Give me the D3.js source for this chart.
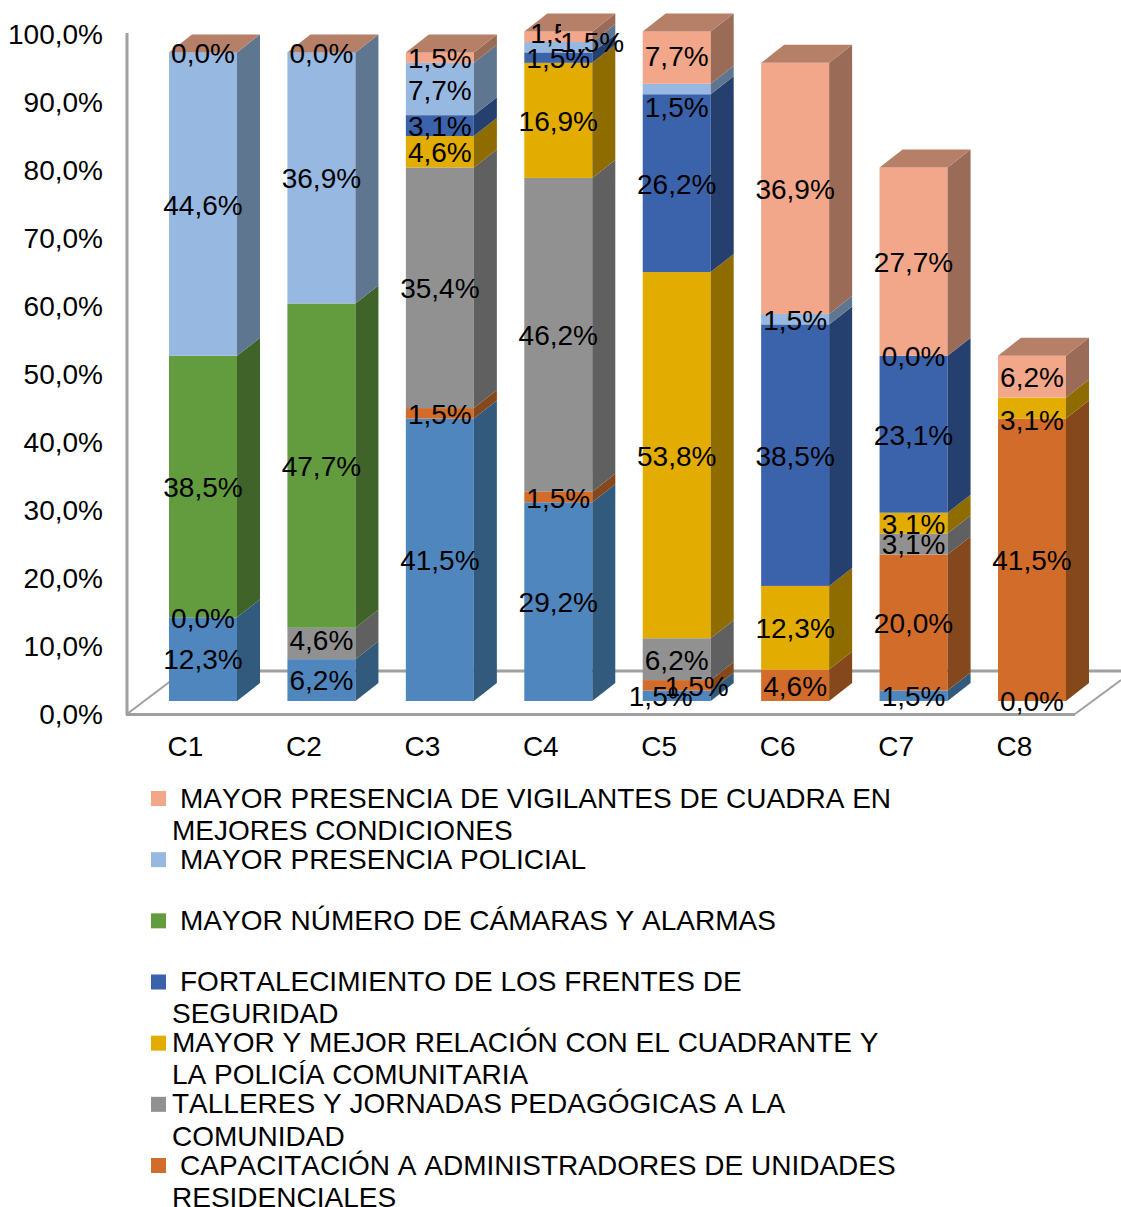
<!DOCTYPE html>
<html><head><meta charset="utf-8">
<script src="https://cdnjs.cloudflare.com/ajax/libs/d3/7.8.5/d3.min.js"></script>
<style>html,body{margin:0;padding:0;background:#fff}svg{display:block}text{font-family:"Liberation Sans",Arial,sans-serif;fill:#000;font-kerning:none}</style>
</head><body><svg id="c" width="1121" height="1207"></svg>
<script>
const categories=["C1","C2","C3","C4","C5","C6","C7","C8"];
const tickValues=[0,10,20,30,40,50,60,70,80,90,100];
// null = no segment and no label in the reference
const serieBase=[12.308,6.154,41.538,29.231,1.538,null,1.538,0];
const serieCapacitacion=[0,null,1.538,1.538,1.538,4.615,20,41.538];
const serieTalleres=[null,4.615,35.385,46.154,6.154,null,3.077,null];
const serieRelacion=[null,null,4.615,16.923,53.846,12.308,3.077,3.077];
const serieFrentes=[null,null,3.077,1.538,26.154,38.462,23.077,null];
const serieCamaras=[38.462,47.692,null,null,null,null,null,null];
const seriePolicial=[44.615,36.923,7.692,1.538,1.538,1.538,0,null];
const serieVigilantes=[0,0,1.538,1.538,7.692,36.923,27.692,6.154];
const seriesValues=[serieBase,serieCapacitacion,serieTalleres,serieRelacion,serieFrentes,serieCamaras,seriePolicial,serieVigilantes];
const legendEntries=[
 {s:7,lines:[" MAYOR PRESENCIA DE VIGILANTES DE CUADRA EN","MEJORES CONDICIONES"]},
 {s:6,lines:[" MAYOR PRESENCIA POLICIAL"]},
 {s:5,lines:[" MAYOR NÚMERO DE CÁMARAS Y ALARMAS"]},
 {s:4,lines:[" FORTALECIMIENTO DE LOS FRENTES DE","SEGURIDAD"]},
 {s:3,lines:["MAYOR Y MEJOR RELACIÓN CON EL CUADRANTE Y","LA POLICÍA COMUNITARIA"]},
 {s:2,lines:["TALLERES Y JORNADAS PEDAGÓGICAS A LA","COMUNIDAD"]},
 {s:1,lines:[" CAPACITACIÓN A ADMINISTRADORES DE UNIDADES","RESIDENCIALES"]}
];
const front=["#4F86BE","#D26C2A","#919191","#E3AC00","#3A63AB","#639B3F","#97B8E1","#F2A68A"];
const side=["#315A7D","#85471C","#606060","#8E6C00","#25406F","#3F6328","#5F7690","#9A6C58"];
const topC="#B67F68";
const nudges={"6-3":[34,-6],"7-3":[4,-4.6],"6-4":[0,17],"7-4":[0,-2],"0-4":[-16,0],"1-4":[20,0],"2-1":[0,-4],"0-0":[0,-1],"0-1":[0,-1],"3-7":[0,11],"0-7":[0,-1],"2-6":[0,-1]};

const svg=d3.select("#c");
const fs=28,W=68,DX=23,DY=18;
const x=d3.scalePoint().domain(categories).range([169,998]);
const y=d3.scaleLinear().domain([0,100]).range([701,21]);
const yAxisS=d3.scaleLinear().domain([0,100]).range([714,34]);
const xAxisS=d3.scalePoint().domain(categories).range([185,1014]);

// clip for the data label that the reference shows cut short
svg.append("defs").append("clipPath").attr("id","cutLabel").append("rect")
  .attr("x",520).attr("y",0).attr("width",41).attr("height",60);

// walls and floor
const line=(a,b,c,d,w)=>svg.append("line").attr("x1",a).attr("y1",b).attr("x2",c).attr("y2",d).attr("stroke","#A0A0A0").attr("stroke-width",w);
line(127,33,127,715,3);
line(126,714.5,1075,714.5,3);
line(184,671,1121,671,3);
line(127,714,184,671,2);
line(1075,714,1121,680,2);

// bars
const stacked=categories.map((c,i)=>{let sum=0;const segs=[];
  seriesValues.forEach((vals,s)=>{const v=vals[i];if(v===null)return;segs.push({c,i,s,v,y0:sum,y1:sum+v});sum+=v;});
  return {c,i,segs,sum};});
const bars=svg.append("g").selectAll("g").data(stacked).join("g");
bars.each(function(b){
  const g=d3.select(this),x0=x(b.c),x1=x0+W;
  b.segs.filter(d=>d.v>0).forEach(d=>{
    g.append("rect").attr("x",x0).attr("y",y(d.y1)).attr("width",W).attr("height",y(d.y0)-y(d.y1)).attr("fill",front[d.s]);
    g.append("path").attr("fill",side[d.s]).attr("d",d3.line()([[x1,y(d.y0)],[x1+DX,y(d.y0)-DY],[x1+DX,y(d.y1)-DY],[x1,y(d.y1)]])+"Z");
  });
  const t=y(b.sum);
  g.append("path").attr("fill",topC).attr("d",d3.line()([[x0,t],[x0+DX,t-DY],[x1+DX,t-DY],[x1,t]])+"Z");
});

// data labels
const fmt=v=>d3.format(".1f")(v).replace(".",",")+"%";
const labels=stacked.flatMap(b=>b.segs);
svg.append("g").selectAll("text").data(labels).join("text")
  .attr("text-anchor","middle").attr("font-size",fs).attr("dominant-baseline","central")
  .attr("x",d=>x(d.c)+W/2+((nudges[d.s+"-"+d.i]||[0,0])[0]))
  .attr("y",d=>y((d.y0+d.y1)/2)+1+((nudges[d.s+"-"+d.i]||[0,0])[1]))
  .attr("clip-path",d=>d.s===7&&d.i===3?"url(#cutLabel)":null)
  .text(d=>fmt(d.v));

// axes
const ya=svg.append("g").attr("transform","translate(103,0)")
  .call(d3.axisLeft(yAxisS).tickValues(tickValues).tickSize(0).tickPadding(0).tickFormat(v=>d3.format(".1f")(v).replace(".",",")+"%"));
ya.select(".domain").remove();
ya.selectAll("text").attr("font-size",fs).attr("font-family",null).attr("dy",null).attr("dominant-baseline","central");
const xa=svg.append("g").attr("transform","translate(0,746.5)")
  .call(d3.axisBottom(xAxisS).tickSize(0).tickPadding(0));
xa.select(".domain").remove();
xa.selectAll("text").attr("font-size",fs).attr("font-family",null).attr("y",0).attr("dy",null).attr("dominant-baseline","central");

// legend
const ly=d3.scaleLinear().domain([0,6]).range([798,1165]);
const lg=svg.append("g").selectAll("g").data(legendEntries).join("g");
lg.append("rect").attr("x",151).attr("y",(d,i)=>ly(i)-7).attr("width",15).attr("height",15).attr("fill",d=>front[d.s]);
lg.each(function(d,i){
  d.lines.forEach((t,k)=>{
    const lead=t.startsWith(" ");
    d3.select(this).append("text").attr("x",lead?180:172).attr("y",ly(i)+k*32.3).attr("font-size",fs)
      .attr("dominant-baseline","central").text(t.trim());
  });
});
</script></body></html>
